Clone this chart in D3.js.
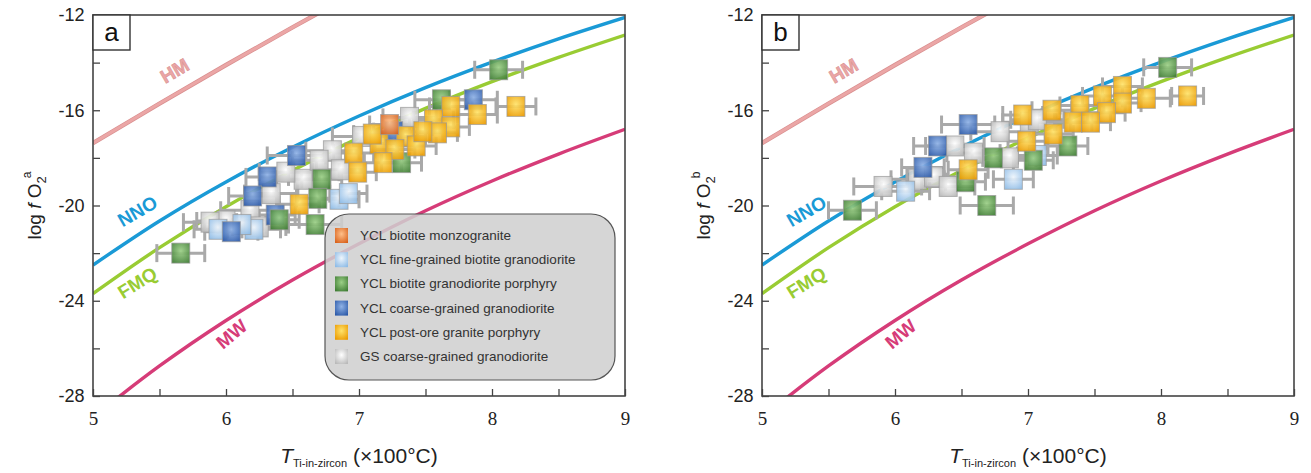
<!DOCTYPE html>
<html><head><meta charset="utf-8">
<script src="https://cdn.jsdelivr.net/npm/d3@7"></script>
<style>body{margin:0;background:#fff}</style>
</head><body>
<svg id="chart" width="1311" height="473"></svg>
<script>
// Axis ticks
const xTicks = [5, 6, 7, 8, 9];
const xMinor = [5.5, 6.5, 7.5, 8.5];
const yTicks = [-12, -16, -20, -24, -28];
const yMinor = [-14, -18, -22, -26];

// Oxygen buffer curves: log fO2 at each temperature (x100 °C)
const curveT = [5, 5.5, 6, 6.5, 7, 7.5, 8, 8.5, 9];
const hmLog  = [-17.38, -15.72, -14.10, -12.52, -10.98, -9.50, -8.05, -6.65, -5.30];
const nnoLog = [-22.50, -20.65, -19.01, -17.55, -16.24, -15.05, -13.98, -13.00, -12.10];
const fmqLog = [-23.70, -21.77, -20.05, -18.53, -17.16, -15.92, -14.80, -13.78, -12.84];
const mwLog  = [-28.89, -26.74, -24.83, -23.13, -21.61, -20.22, -18.97, -17.84, -16.80];

// Series names (legend order)
const seriesNames = [
  "YCL biotite monzogranite",
  "YCL fine-grained biotite granodiorite",
  "YCL biotite granodiorite porphyry",
  "YCL coarse-grained granodiorite",
  "YCL post-ore granite porphyry",
  "GS coarse-grained granodiorite"
];

// Panel a: temperature, log fO2 and temperature uncertainty per sample
const aMonzoT = [7.23];
const aMonzoY = [-16.6];
const aMonzoE = [0.15];
const aFineT = [6.85, 6.21, 5.94, 6.92, 6.12];
const aFineY = [-19.74, -21.0, -21.0, -19.5, -20.8];
const aFineE = [0.15, 0.2, 0.18, 0.14, 0.18];
const aPorT = [8.05, 7.62, 7.32, 6.72, 6.69, 6.40, 6.67, 5.66];
const aPorY = [-14.3, -15.56, -18.2, -18.9, -19.7, -20.6, -20.8, -22.0];
const aPorE = [0.18, 0.2, 0.15, 0.15, 0.16, 0.15, 0.2, 0.18];
const aCoarseT = [7.86, 7.26, 6.53, 6.31, 6.20, 6.37, 6.04];
const aCoarseY = [-15.56, -16.9, -17.9, -18.8, -19.6, -20.4, -21.1];
const aCoarseE = [0.18, 0.15, 0.22, 0.16, 0.18, 0.15, 0.2];
const aPostT = [8.18, 7.89, 7.69, 7.56, 7.69, 7.59, 7.35, 7.15, 7.43, 7.27, 7.18, 6.96, 6.99, 6.55, 7.10, 7.48];
const aPostY = [-15.84, -16.18, -15.84, -16.4, -16.7, -16.95, -17.1, -17.4, -17.5, -17.65, -18.2, -17.8, -18.6, -19.95, -17.0, -16.9];
const aPostE = [0.15, 0.15, 0.16, 0.15, 0.14, 0.15, 0.15, 0.14, 0.15, 0.15, 0.14, 0.15, 0.14, 0.15, 0.14, 0.15];
const aGsT = [7.38, 7.02, 6.80, 6.86, 6.58, 6.45, 6.34, 6.18, 6.00, 5.88, 6.70, 6.25];
const aGsY = [-16.3, -17.1, -17.7, -18.5, -18.9, -18.6, -19.5, -20.2, -20.65, -20.7, -18.1, -20.9];
const aGsE = [0.2, 0.22, 0.2, 0.18, 0.2, 0.2, 0.2, 0.22, 0.22, 0.2, 0.2, 0.2];

// Panel b
const bMonzoT = [];
const bMonzoY = [];
const bMonzoE = [];
const bFineT = [6.08, 6.89, 7.07];
const bFineY = [-19.4, -18.9, -17.9];
const bFineE = [0.18, 0.15, 0.15];
const bPorT = [8.05, 7.30, 7.04, 6.74, 6.53, 6.69, 5.68];
const bPorY = [-14.2, -17.5, -18.1, -18.0, -19.0, -20.0, -20.2];
const bPorE = [0.18, 0.15, 0.15, 0.16, 0.15, 0.2, 0.18];
const bCoarseT = [6.55, 6.32, 6.21];
const bCoarseY = [-16.6, -17.5, -18.4];
const bCoarseE = [0.2, 0.18, 0.16];
const bPostT = [8.20, 7.89, 7.71, 7.71, 7.56, 7.59, 7.39, 7.34, 7.47, 7.18, 6.96, 7.19, 6.99, 6.55];
const bPostY = [-15.4, -15.5, -15.0, -15.7, -15.4, -16.1, -15.8, -16.5, -16.5, -16.0, -16.2, -17.0, -17.3, -18.5];
const bPostE = [0.12, 0.18, 0.15, 0.14, 0.15, 0.14, 0.15, 0.14, 0.15, 0.15, 0.15, 0.15, 0.14, 0.15];
const bGsT = [5.91, 6.17, 6.29, 6.45, 6.40, 6.59, 6.79, 6.86, 7.01, 7.07];
const bGsY = [-19.2, -18.9, -18.8, -17.5, -19.2, -17.8, -16.9, -18.0, -16.5, -16.4];
const bGsE = [0.22, 0.2, 0.2, 0.22, 0.2, 0.2, 0.22, 0.2, 0.2, 0.2];

// Fill ramps for each series (light centre -> base edge)
const seriesColors = [
  ["#ffc08a", "#d9621c"],
  ["#eef5fc", "#8dbbe6"],
  ["#9bcf86", "#3f7d34"],
  ["#8fb2e6", "#2b59a8"],
  ["#ffe36a", "#eb9a00"],
  ["#ffffff", "#b9b9b9"]
];
const lineColors = {hm: "#eba6a6", nno: "#1a9ad6", fmq: "#99cc33", mw: "#d63c78"};

const svg = d3.select("#chart");
const defs = svg.append("defs");
seriesColors.forEach((c, i) => {
  const g = defs.append("radialGradient").attr("id", "grad" + i)
    .attr("cx", "50%").attr("cy", "40%").attr("r", "70%");
  g.append("stop").attr("offset", "0%").attr("stop-color", c[0]);
  g.append("stop").attr("offset", "100%").attr("stop-color", c[1]);
});

function zipSeries(T, Y, E) { return T.map((t, i) => ({t: t, y: Y[i], e: E[i]})); }

const panels = [
  {id: "a", x0: 93, x1: 625, sup: "a", legend: true,
   series: [zipSeries(aMonzoT, aMonzoY, aMonzoE), zipSeries(aFineT, aFineY, aFineE),
            zipSeries(aPorT, aPorY, aPorE), zipSeries(aCoarseT, aCoarseY, aCoarseE),
            zipSeries(aPostT, aPostY, aPostE), zipSeries(aGsT, aGsY, aGsE)]},
  {id: "b", x0: 762, x1: 1294, sup: "b", legend: false,
   series: [zipSeries(bMonzoT, bMonzoY, bMonzoE), zipSeries(bFineT, bFineY, bFineE),
            zipSeries(bPorT, bPorY, bPorE), zipSeries(bCoarseT, bCoarseY, bCoarseE),
            zipSeries(bPostT, bPostY, bPostE), zipSeries(bGsT, bGsY, bGsE)]}
];

const plotTop = 15, plotBottom = 396;
const drawOrder = [5, 1, 3, 2, 4, 0];

panels.forEach(p => {
  const x = d3.scaleLinear().domain([5, 9]).range([p.x0, p.x1]);
  const y = d3.scaleLinear().domain([-28, -12]).range([plotBottom, plotTop]);
  const g = svg.append("g");

  defs.append("clipPath").attr("id", "clip" + p.id)
    .append("rect").attr("x", p.x0).attr("y", plotTop)
    .attr("width", p.x1 - p.x0).attr("height", plotBottom - plotTop);

  // Buffer curves
  const line = d3.line().x(d => x(d[0])).y(d => y(d[1])).curve(d3.curveMonotoneX);
  const curves = [["hm", hmLog], ["nno", nnoLog], ["fmq", fmqLog], ["mw", mwLog]];
  const cg = g.append("g").attr("clip-path", `url(#clip${p.id})`);
  curves.forEach(([k, vals]) => {
    const pts = curveT.map((t, i) => [t, vals[i]]);
    if (k === "hm") {
      cg.append("path").attr("d", line(pts)).attr("fill", "none")
        .attr("stroke", "#d99090").attr("stroke-width", 4.4);
    }
    cg.append("path").attr("d", line(pts)).attr("fill", "none")
      .attr("stroke", lineColors[k]).attr("stroke-width", k === "hm" ? 3.0 : 3.4);
  });

  // Buffer labels
  const labels = [
    {txt: "HM", t: 5.62, v: -14.4, rot: -30, c: lineColors.hm},
    {txt: "NNO", t: 5.34, v: -20.3, rot: -30, c: lineColors.nno},
    {txt: "FMQ", t: 5.34, v: -23.3, rot: -32, c: lineColors.fmq},
    {txt: "MW", t: 6.05, v: -25.45, rot: -40, c: lineColors.mw}
  ];
  labels.forEach(l => {
    g.append("text").attr("transform", `translate(${x(l.t)},${y(l.v)}) rotate(${l.rot})`)
      .attr("text-anchor", "middle").attr("dominant-baseline", "middle")
      .attr("font-family", "Liberation Sans, Arial, sans-serif").attr("font-weight", "bold")
      .attr("font-size", 19).attr("fill", l.c)
      .attr("stroke", l.txt === "HM" ? "#d99090" : "none").attr("stroke-width", 0.6)
      .text(l.txt);
  });

  // Data: error bars first, then markers
  const dg = g.append("g").attr("clip-path", `url(#clip${p.id})`);
  const capH = 9;
  drawOrder.forEach(si => {
    p.series[si].forEach(d => {
      const xa = x(d.t - d.e), xb = x(d.t + d.e), yy = y(d.y);
      dg.append("line").attr("x1", xa).attr("x2", xb).attr("y1", yy).attr("y2", yy)
        .attr("stroke", "#a9a9a9").attr("stroke-width", 3);
      [xa, xb].forEach(xx => dg.append("line").attr("x1", xx).attr("x2", xx)
        .attr("y1", yy - capH).attr("y2", yy + capH)
        .attr("stroke", "#a9a9a9").attr("stroke-width", 3));
    });
  });
  const w = 18, h = 20;
  drawOrder.forEach(si => {
    p.series[si].forEach(d => {
      dg.append("rect").attr("x", x(d.t) - w / 2).attr("y", y(d.y) - h / 2)
        .attr("width", w).attr("height", h)
        .attr("fill", `url(#grad${si})`).attr("fill-opacity", 0.92)
        .attr("stroke", "#9a9a9a").attr("stroke-width", 1).attr("stroke-opacity", 0.7);
    });
  });

  // Axes with inward ticks
  const axB = g.append("g").attr("transform", `translate(0,${plotBottom})`)
    .call(d3.axisBottom(x).tickValues(xTicks.concat(xMinor)).tickSize(-7)
      .tickFormat(d => xTicks.includes(d) ? d : ""));
  axB.selectAll("text").attr("font-family", "Liberation Serif, Times New Roman, serif")
    .attr("font-size", 19).attr("fill", "#222").attr("dy", "1.35em");
  const axL = g.append("g").attr("transform", `translate(${p.x0},0)`)
    .call(d3.axisLeft(y).tickValues(yTicks.concat(yMinor)).tickSize(-7)
      .tickFormat(d => yTicks.includes(d) ? d : ""));
  axL.selectAll("text").attr("font-family", "Liberation Sans, Arial, sans-serif")
    .attr("font-size", 18).attr("fill", "#222").attr("dx", "-0.3em");
  [axB, axL].forEach(a => {
    a.select(".domain").remove();
    a.selectAll("line").attr("stroke", "#444").attr("stroke-width", 1.3);
  });

  // Frame
  g.append("rect").attr("x", p.x0).attr("y", plotTop).attr("width", p.x1 - p.x0)
    .attr("height", plotBottom - plotTop).attr("fill", "none").attr("stroke", "#444").attr("stroke-width", 1.6);

  // Panel letter
  g.append("rect").attr("x", p.x0).attr("y", plotTop).attr("width", 37).attr("height", 35)
    .attr("fill", "#fff").attr("stroke", "#333").attr("stroke-width", 1.4);
  g.append("text").attr("x", p.x0 + 18.5).attr("y", plotTop + 26).attr("text-anchor", "middle")
    .attr("font-family", "Liberation Sans, Arial, sans-serif").attr("font-size", 26)
    .attr("fill", "#111").text(p.id);

  // Y axis title
  const yt = g.append("text")
    .attr("transform", `translate(${p.x0 - 52},${(plotTop + plotBottom) / 2}) rotate(-90)`)
    .attr("text-anchor", "middle").attr("font-family", "Liberation Sans, Arial, sans-serif")
    .attr("font-size", 19).attr("fill", "#222");
  yt.append("tspan").text("log ");
  yt.append("tspan").attr("font-style", "italic").text("f");
  yt.append("tspan").text(" O");
  yt.append("tspan").attr("font-size", 13).attr("dy", 5).text("2");
  yt.append("tspan").attr("font-size", 12).attr("dy", -15).attr("dx", -2).text(p.sup);

  // X axis title
  const xt = g.append("text").attr("x", (p.x0 + p.x1) / 2).attr("y", 463)
    .attr("text-anchor", "middle").attr("font-family", "Liberation Sans, Arial, sans-serif")
    .attr("font-size", 21).attr("fill", "#222");
  xt.append("tspan").attr("font-style", "italic").text("T");
  xt.append("tspan").attr("font-size", 11).attr("dy", 4).text("Ti-in-zircon");
  xt.append("tspan").attr("dy", -4).text(" (×100°C)");

  // Legend
  if (p.legend) {
    const lg = g.append("g");
    lg.append("rect").attr("x", 325).attr("y", 214).attr("width", 290).attr("height", 166)
      .attr("rx", 24).attr("fill", "#cfcfcf").attr("fill-opacity", 0.86)
      .attr("stroke", "#555").attr("stroke-width", 1.2);
    seriesNames.forEach((name, i) => {
      const ly = 235 + i * 24.2;
      lg.append("rect").attr("x", 335).attr("y", ly - 7).attr("width", 13).attr("height", 15)
        .attr("fill", `url(#grad${i})`);
      lg.append("text").attr("x", 360).attr("y", ly + 5)
        .attr("font-family", "Liberation Sans, Arial, sans-serif").attr("font-size", 13.5)
        .attr("fill", "#333").text(name);
    });
  }
});
</script>
</body></html>
